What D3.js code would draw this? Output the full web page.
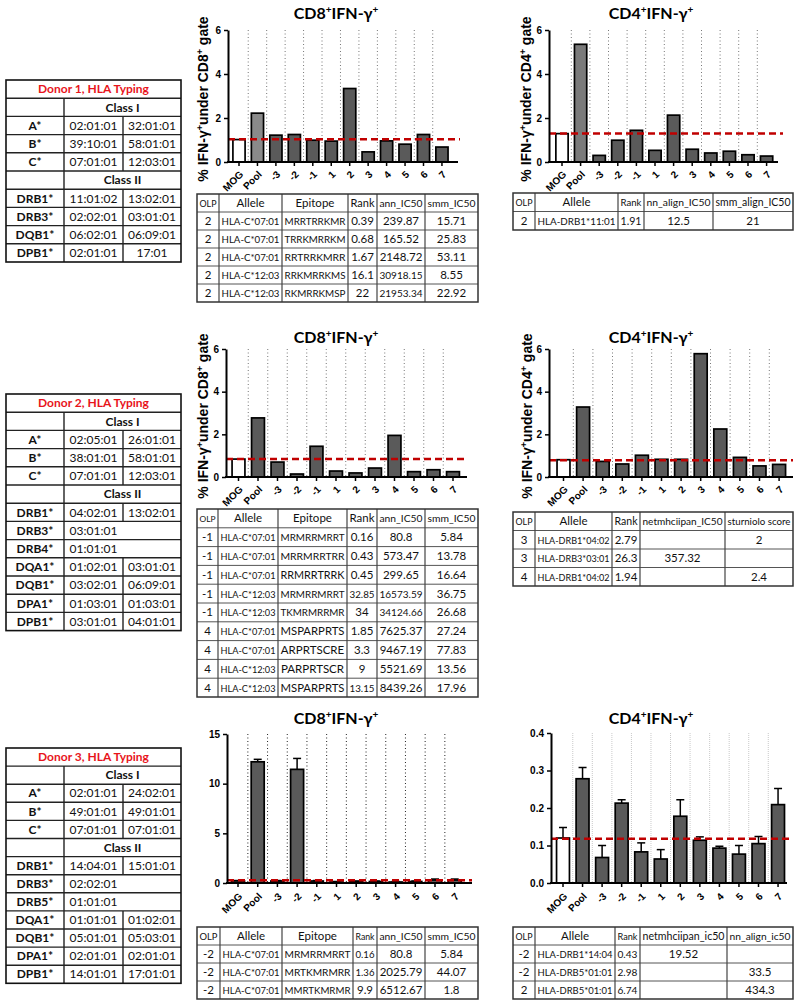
<!DOCTYPE html>
<html>
<head>
<meta charset="utf-8">
<script src="https://cdn.jsdelivr.net/npm/d3@7"></script>
<style>
  body { margin: 0; background: #fff; }
  svg { display: block; }
</style>
</head>
<body>
<div id="fig"></div>
<script>
// ---- data ----
var categories = ["MOG", "Pool", "-3", "-2", "-1", "1", "2", "3", "4", "5", "6", "7"];

// % IFN-g+ per stimulus
var d1CD8 = [1.02, 2.22, 1.22, 1.25, 0.99, 0.95, 3.34, 0.46, 0.96, 0.81, 1.25, 0.68];
var d1CD8Cut = 1.03;
var d1CD4 = [1.29, 5.35, 0.30, 0.99, 1.44, 0.53, 2.13, 0.58, 0.41, 0.49, 0.33, 0.27];
var d1CD4Cut = 1.29;

var d2CD8 = [0.84, 2.77, 0.70, 0.14, 1.44, 0.28, 0.19, 0.42, 1.95, 0.25, 0.34, 0.25];
var d2CD8Cut = 0.84;
var d2CD4 = [0.81, 3.28, 0.73, 0.61, 1.02, 0.83, 0.83, 5.78, 2.25, 0.92, 0.52, 0.59];
var d2CD4Cut = 0.78;

var d3CD8 = [0.20, 12.20, 0.20, 11.44, 0.20, 0.10, 0.15, 0.15, 0.10, 0.15, 0.30, 0.30];
var d3CD8Err = [0.05, 0.25, 0.05, 1.10, 0.05, 0.05, 0.05, 0.05, 0.05, 0.05, 0.10, 0.10];
var d3CD8Cut = 0.27;
var d3CD4 = [0.120, 0.278, 0.068, 0.213, 0.083, 0.064, 0.178, 0.114, 0.093, 0.077, 0.105, 0.209];
var d3CD4Err = [0.028, 0.030, 0.032, 0.009, 0.024, 0.025, 0.044, 0.009, 0.005, 0.023, 0.019, 0.043];
var d3CD4Cut = 0.118;

// HLA typing
var donor1Title = "Donor 1, HLA Typing";
var donor1Class1 = [["A*", "02:01:01", "32:01:01"], ["B*", "39:10:01", "58:01:01"], ["C*", "07:01:01", "12:03:01"]];
var donor1Class2 = [["DRB1*", "11:01:02", "13:02:01"], ["DRB3*", "02:02:01", "03:01:01"],
                    ["DQB1*", "06:02:01", "06:09:01"], ["DPB1*", "02:01:01", "17:01"]];

var donor2Title = "Donor 2, HLA Typing";
var donor2Class1 = [["A*", "02:05:01", "26:01:01"], ["B*", "38:01:01", "58:01:01"], ["C*", "07:01:01", "12:03:01"]];
var donor2Class2 = [["DRB1*", "04:02:01", "13:02:01"], ["DRB3*", "03:01:01", ""], ["DRB4*", "01:01:01", ""],
                    ["DQA1*", "01:02:01", "03:01:01"], ["DQB1*", "03:02:01", "06:09:01"],
                    ["DPA1*", "01:03:01", "01:03:01"], ["DPB1*", "03:01:01", "04:01:01"]];

var donor3Title = "Donor 3, HLA Typing";
var donor3Class1 = [["A*", "02:01:01", "24:02:01"], ["B*", "49:01:01", "49:01:01"], ["C*", "07:01:01", "07:01:01"]];
var donor3Class2 = [["DRB1*", "14:04:01", "15:01:01"], ["DRB3*", "02:02:01", ""], ["DRB5*", "01:01:01", ""],
                    ["DQA1*", "01:01:01", "01:02:01"], ["DQB1*", "05:01:01", "05:03:01"],
                    ["DPA1*", "02:01:01", "02:01:01"], ["DPB1*", "14:01:01", "17:01:01"]];

// epitope prediction tables
var classIHeader = ["OLP", "Allele", "Epitope", "Rank", "ann_IC50", "smm_IC50"];
var t1Rows = [
  ["2", "HLA-C*07:01", "MRRTRRKMR", "0.39", "239.87", "15.71"],
  ["2", "HLA-C*07:01", "TRRKMRRKM", "0.68", "165.52", "25.83"],
  ["2", "HLA-C*07:01", "RRTRRKMRR", "1.67", "2148.72", "53.11"],
  ["2", "HLA-C*12:03", "RRKMRRKMS", "16.1", "30918.15", "8.55"],
  ["2", "HLA-C*12:03", "RKMRRKMSP", "22", "21953.34", "22.92"]
];
var t2Header = ["OLP", "Allele", "Rank", "nn_align_IC50", "smm_align_IC50"];
var t2Rows = [["2", "HLA-DRB1*11:01", "1.91", "12.5", "21"]];

var t3Rows = [
  ["-1", "HLA-C*07:01", "MRMRRMRRT", "0.16", "80.8", "5.84"],
  ["-1", "HLA-C*07:01", "MRRMRRTRR", "0.43", "573.47", "13.78"],
  ["-1", "HLA-C*07:01", "RRMRRTRRK", "0.45", "299.65", "16.64"],
  ["-1", "HLA-C*12:03", "MRMRRMRRT", "32.85", "16573.59", "36.75"],
  ["-1", "HLA-C*12:03", "TKMRMRRMR", "34", "34124.66", "26.68"],
  ["4", "HLA-C*07:01", "MSPARPRTS", "1.85", "7625.37", "27.24"],
  ["4", "HLA-C*07:01", "ARPRTSCRE", "3.3", "9467.19", "77.83"],
  ["4", "HLA-C*12:03", "PARPRTSCR", "9", "5521.69", "13.56"],
  ["4", "HLA-C*12:03", "MSPARPRTS", "13.15", "8439.26", "17.96"]
];
var t4Header = ["OLP", "Allele", "Rank", "netmhciipan_IC50", "sturniolo score"];
var t4Rows = [
  ["3", "HLA-DRB1*04:02", "2.79", "", "2"],
  ["3", "HLA-DRB3*03:01", "26.3", "357.32", ""],
  ["4", "HLA-DRB1*04:02", "1.94", "", "2.4"]
];

var t5Rows = [
  ["-2", "HLA-C*07:01", "MRMRRMRRT", "0.16", "80.8", "5.84"],
  ["-2", "HLA-C*07:01", "MRTKMRMRR", "1.36", "2025.79", "44.07"],
  ["-2", "HLA-C*07:01", "MMRTKMRMR", "9.9", "6512.67", "1.8"]
];
var t6Header = ["OLP", "Allele", "Rank", "netmhciipan_ic50", "nn_align_ic50"];
var t6Rows = [
  ["-2", "HLA-DRB1*14:04", "0.43", "19.52", ""],
  ["-2", "HLA-DRB5*01:01", "2.98", "", "33.5"],
  ["2", "HLA-DRB5*01:01", "6.74", "", "434.3"]
];

// ---- drawing ----
var svg = d3.select("#fig").append("svg")
  .attr("width", 800)
  .attr("height", 1008);

var axisFont = "'Liberation Sans', Arial, sans-serif";
var tableFont = "Lato, 'Open Sans', sans-serif";

// text with superscript "+" parts
function richText(t, parts, supSize, shift) {
  var up = false;
  parts.forEach(function(p) {
    var ts = t.append("tspan").text(p[0]);
    if (p[1]) {
      ts.attr("font-size", supSize);
      if (!up) { ts.attr("dy", -shift); up = true; }
    } else if (up) {
      ts.attr("dy", shift); up = false;
    }
  });
}

// shrink a cell text that is wider than its cell
function fitText(node, maxW, size) {
  var w = node.getComputedTextLength();
  if (w > maxW) {
    d3.select(node).attr("font-size", (size * maxW / w).toFixed(2));
  }
}

function drawChart(c) {
  var n = categories.length;
  var x = d3.scaleBand()
    .domain(categories)
    .range([c.c0 - c.step / 2, c.c0 + (n - 0.5) * c.step])
    .paddingInner(0.34)
    .paddingOuter(0.17);
  var y = d3.scaleLinear().domain([0, c.max]).range([c.yZero, c.yTop]);
  var g = svg.append("g");

  // dotted separators between categories
  g.selectAll("line.sep")
    .data(categories.slice(1))
    .enter()
    .append("line")
    .attr("x1", d => x(d) - x.step() * x.paddingInner() / 2)
    .attr("x2", d => x(d) - x.step() * x.paddingInner() / 2)
    .attr("y1", y(c.max))
    .attr("y2", c.yZero)
    .attr("stroke", c.sep)
    .attr("stroke-width", c.sepW || 1)
    .attr("stroke-dasharray", c.sepDash || "1,2.5");

  // bars
  g.selectAll("rect.bar")
    .data(c.vals)
    .enter()
    .append("rect")
    .attr("x", (d, i) => x(categories[i]))
    .attr("y", d => y(d))
    .attr("width", x.bandwidth())
    .attr("height", d => c.yZero - y(d))
    .attr("fill", (d, i) => i === 0 ? "#fff" : (i === 1 ? c.pool : c.fill))
    .attr("stroke", "#000")
    .attr("stroke-width", 1.7);

  // error bars (upper only)
  if (c.err) {
    var eb = g.selectAll("g.err")
      .data(c.vals)
      .enter()
      .append("g")
      .attr("transform", (d, i) => "translate(" + (x(categories[i]) + x.bandwidth() / 2) + ",0)");
    eb.append("line")
      .attr("y1", d => y(d))
      .attr("y2", (d, i) => y(d + c.err[i]))
      .attr("stroke", "#000").attr("stroke-width", 1.5);
    eb.append("line")
      .attr("x1", -4).attr("x2", 4)
      .attr("y1", (d, i) => y(d + c.err[i]))
      .attr("y2", (d, i) => y(d + c.err[i]))
      .attr("stroke", "#000").attr("stroke-width", 1.5);
  }

  // cut-off line (MOG level)
  g.append("line")
    .attr("x1", c.ax)
    .attr("x2", c.redEnd)
    .attr("y1", y(c.cut))
    .attr("y2", y(c.cut))
    .attr("stroke", "#c00000")
    .attr("stroke-width", 2.5)
    .attr("stroke-dasharray", "7,4");

  // axes
  var yAxis = d3.axisLeft(y)
    .tickValues(c.ticks)
    .tickFormat(d3.format(c.fmt || "d"))
    .tickSize(4)
    .tickSizeOuter(0);
  var ya = g.append("g")
    .attr("transform", `translate(${c.ax}, 0)`)
    .attr("font-family", axisFont)
    .attr("font-size", 9)
    .attr("font-weight", "bold")
    .call(yAxis);
  ya.select(".domain").attr("stroke-width", 2);
  ya.selectAll(".tick line").attr("stroke-width", 1.5);

  var xAxis = d3.axisBottom(x).tickSize(4).tickSizeOuter(0);
  var xa = g.append("g")
    .attr("transform", `translate(0, ${c.yZero})`)
    .attr("font-family", axisFont)
    .attr("font-size", c.xFont)
    .attr("font-weight", "bold")
    .call(xAxis);
  xa.select(".domain").remove();
  xa.selectAll(".tick line").attr("stroke-width", 1.5);
  xa.selectAll(".tick text")
    .attr("y", 0)
    .attr("dy", 0)
    .attr("text-anchor", "end")
    .attr("transform", `translate(5, ${c.xFont + 1}) rotate(-45)`);

  g.append("line")
    .attr("x1", c.ax - 1)
    .attr("x2", c.axEnd)
    .attr("y1", c.yZero)
    .attr("y2", c.yZero)
    .attr("stroke", "#000")
    .attr("stroke-width", 2);

  // title
  var title = g.append("text")
    .attr("x", c.titleX)
    .attr("y", c.titleY)
    .attr("text-anchor", "middle")
    .attr("font-family", tableFont)
    .attr("font-weight", "bold")
    .attr("font-size", 16);
  richText(title, [["CD" + c.tag, 0], ["+", 1], ["IFN-γ", 0], ["+", 1]], 10, 6);

  // y label
  if (c.labX) {
    var lab = g.append("text")
      .attr("transform", `translate(${c.labX}, ${(c.yTop + c.yZero) / 2 + 3}) rotate(-90)`)
      .attr("text-anchor", "middle")
      .attr("font-family", axisFont)
      .attr("font-weight", "bold")
      .attr("font-size", 14);
    richText(lab, [["% IFN-γ", 0], ["+", 1], ["under CD" + c.tag, 0], ["+", 1], [" gate", 0]], 9, 5);
  }
}

function drawTable(c) {
  var all = [c.header].concat(c.rows);
  var nR = all.length;
  var bottom = c.top + nR * c.rowH;
  var left = c.cols[0], right = c.cols[c.cols.length - 1];
  var size = 11.5;
  var g = svg.append("g");

  g.selectAll("line.h")
    .data(d3.range(1, nR))
    .enter()
    .append("line")
    .attr("x1", left).attr("x2", right)
    .attr("y1", r => c.top + r * c.rowH)
    .attr("y2", r => c.top + r * c.rowH)
    .attr("stroke", "#555").attr("stroke-width", 1);

  g.selectAll("line.v")
    .data(c.cols.slice(1, -1))
    .enter()
    .append("line")
    .attr("x1", d => d).attr("x2", d => d)
    .attr("y1", c.top).attr("y2", bottom)
    .attr("stroke", "#444").attr("stroke-width", 1.2);

  g.append("rect")
    .attr("x", left).attr("y", c.top)
    .attr("width", right - left).attr("height", bottom - c.top)
    .attr("fill", "none").attr("stroke", "#333").attr("stroke-width", 1.5);

  all.forEach(function(row, r) {
    g.selectAll(null)
      .data(row)
      .enter()
      .append("text")
      .attr("x", (d, j) => (c.cols[j] + c.cols[j + 1]) / 2)
      .attr("y", c.top + r * c.rowH + c.rowH / 2 + 4)
      .attr("text-anchor", "middle")
      .attr("font-family", tableFont)
      .attr("font-size", size)
      .attr("fill", "#111")
      .text(d => d)
      .each(function(d, j) {
        fitText(this, c.cols[j + 1] - c.cols[j] - 5, size);
      });
  });
}

function drawDonor(c) {
  var rows = [{t: "title", s: c.title}, {t: "class", s: "Class I"}]
    .concat(c.class1.map(r => ({t: "gene", c: r})))
    .concat([{t: "class", s: "Class II"}])
    .concat(c.class2.map(r => ({t: "gene", c: r})));
  var cols = c.cols;
  var bottom = c.top + rows.length * c.rowH;
  var g = svg.append("g");

  rows.forEach(function(row, r) {
    var y0 = c.top + r * c.rowH;
    var yMid = y0 + c.rowH / 2 + 4.2;
    if (r > 0) {
      g.append("line")
        .attr("x1", cols[0]).attr("x2", cols[3])
        .attr("y1", y0).attr("y2", y0)
        .attr("stroke", "#222").attr("stroke-width", 1.4);
    }
    var dividers = row.t === "title" ? [] : (row.t === "class" ? [cols[1]] :
      (row.c[2] === "" ? [cols[1]] : [cols[1], cols[2]]));
    dividers.forEach(function(xv) {
      g.append("line")
        .attr("x1", xv).attr("x2", xv)
        .attr("y1", y0).attr("y2", y0 + c.rowH)
        .attr("stroke", "#222").attr("stroke-width", 1.4);
    });
    if (row.t === "title") {
      g.append("text")
        .attr("x", (cols[0] + cols[3]) / 2).attr("y", yMid)
        .attr("text-anchor", "middle")
        .attr("font-family", tableFont).attr("font-size", 12).attr("font-weight", "bold")
        .attr("fill", "#e8141b")
        .text(row.s);
    } else if (row.t === "class") {
      g.append("text")
        .attr("x", (cols[1] + cols[3]) / 2).attr("y", yMid)
        .attr("text-anchor", "middle")
        .attr("font-family", tableFont).attr("font-size", 12).attr("font-weight", "bold")
        .attr("fill", "#111")
        .text(row.s);
    } else {
      row.c.forEach(function(s, j) {
        g.append("text")
          .attr("x", (cols[j] + cols[j + 1]) / 2).attr("y", yMid)
          .attr("text-anchor", "middle")
          .attr("font-family", tableFont).attr("font-size", 12)
          .attr("font-weight", j === 0 ? "bold" : "normal")
          .attr("fill", "#111")
          .text(s);
      });
    }
  });

  g.append("rect")
    .attr("x", cols[0]).attr("y", c.top)
    .attr("width", cols[3] - cols[0]).attr("height", bottom - c.top)
    .attr("fill", "none").attr("stroke", "#111").attr("stroke-width", 1.6);
}

// ---- layout ----
var donorCols = [6, 64, 123, 181];
drawDonor({title: donor1Title, class1: donor1Class1, class2: donor1Class2, cols: donorCols, top: 80, rowH: 18.2});
drawDonor({title: donor2Title, class1: donor2Class1, class2: donor2Class2, cols: donorCols, top: 394, rowH: 18.2});
drawDonor({title: donor3Title, class1: donor3Class1, class2: donor3Class2, cols: donorCols, top: 748, rowH: 18.1});

var darkFill = "#5a5a5a";
drawChart({vals: d1CD8, cut: d1CD8Cut, tag: "8", ax: 228, c0: 239, step: 18.45, axEnd: 458, redEnd: 460,
  yTop: 30, yZero: 162, max: 6, ticks: [0, 2, 4, 6], titleX: 336, titleY: 19, labX: 208,
  pool: "#8a8a8a", fill: darkFill, sep: "#777", xFont: 12});
drawChart({vals: d1CD4, cut: d1CD4Cut, tag: "4", ax: 549, c0: 562, step: 18.6, axEnd: 778, redEnd: 783,
  yTop: 30, yZero: 162, max: 6, ticks: [0, 2, 4, 6], titleX: 651, titleY: 19, labX: 531,
  pool: "#7a7a7a", fill: darkFill, sep: "#777", xFont: 12});
drawChart({vals: d2CD8, cut: d2CD8Cut, tag: "8", ax: 226, c0: 238.5, step: 19.5, axEnd: 467, redEnd: 467,
  yTop: 349, yZero: 477, max: 6, ticks: [0, 2, 4, 6], titleX: 336, titleY: 343, labX: 208,
  pool: darkFill, fill: darkFill, sep: "#777", xFont: 12});
drawChart({vals: d2CD4, cut: d2CD4Cut, tag: "4", ax: 549, c0: 563.5, step: 19.6, axEnd: 793, redEnd: 793,
  yTop: 349, yZero: 477, max: 6, ticks: [0, 2, 4, 6], titleX: 651, titleY: 343, labX: 532,
  pool: darkFill, fill: darkFill, sep: "#777", xFont: 12});
drawChart({vals: d3CD8, err: d3CD8Err, cut: d3CD8Cut, tag: "8", ax: 227, c0: 238, step: 19.7, axEnd: 472, redEnd: 472,
  yTop: 734, yZero: 883, max: 15, ticks: [0, 5, 10, 15], titleX: 336, titleY: 724,
  pool: darkFill, fill: darkFill, sep: "#222", xFont: 13});
drawChart({vals: d3CD4, err: d3CD4Err, cut: d3CD4Cut, tag: "4", ax: 551, c0: 563, step: 19.55, axEnd: 787, redEnd: 793,
  yTop: 733, yZero: 883, max: 0.4, ticks: [0, 0.1, 0.2, 0.3, 0.4], fmt: ".1f", titleX: 651, titleY: 724,
  pool: darkFill, fill: darkFill, sep: "#bbb", sepW: 0.8, sepDash: "1,1", xFont: 13});

drawTable({header: classIHeader, rows: t1Rows, cols: [197, 219, 282, 348, 377, 425, 478], top: 194, rowH: 18});
drawTable({header: t2Header, rows: t2Rows, cols: [513, 535, 618, 644, 713, 793], top: 193, rowH: 18.5});
drawTable({header: classIHeader, rows: t3Rows, cols: [197, 218, 278, 347, 377, 425, 478], top: 509, rowH: 18.8});
drawTable({header: t4Header, rows: t4Rows, cols: [513, 535, 612, 640, 725, 793], top: 512, rowH: 18.5});
drawTable({header: classIHeader, rows: t5Rows, cols: [197, 220, 282, 353, 377, 425, 478], top: 927, rowH: 18});
drawTable({header: t6Header, rows: t6Rows, cols: [513, 535, 615, 640, 727, 793], top: 927, rowH: 18});
</script>
</body>
</html>
